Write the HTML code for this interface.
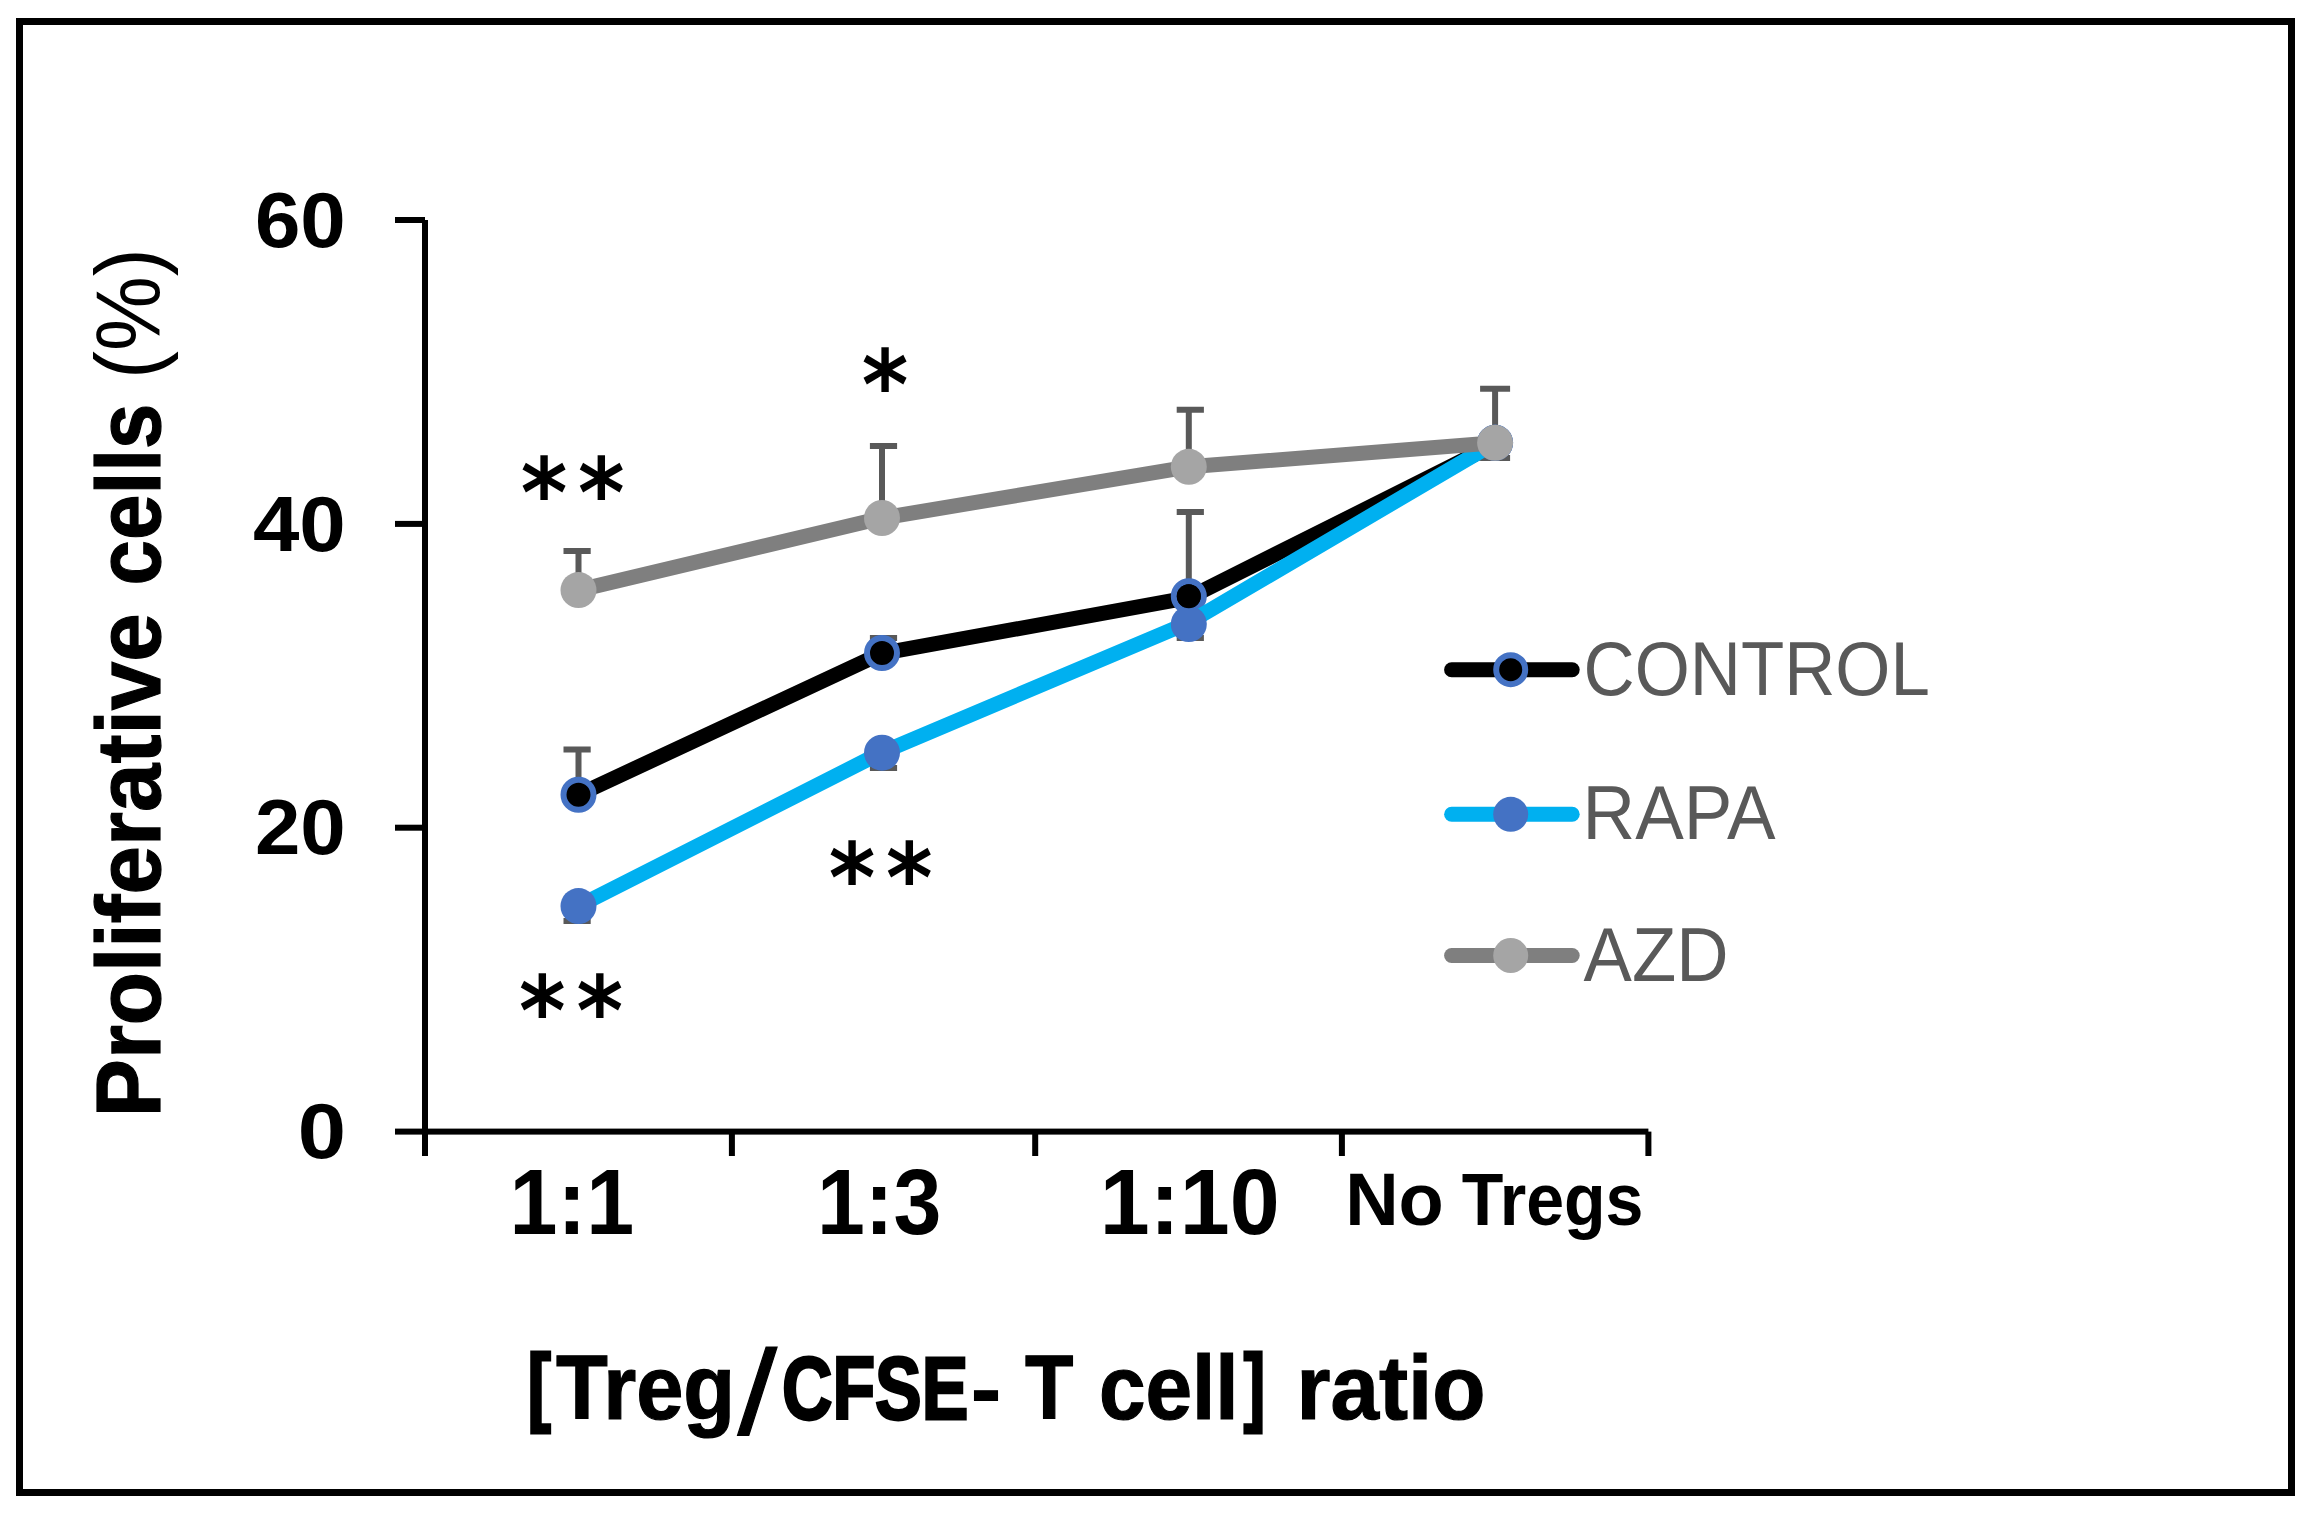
<!DOCTYPE html>
<html lang="en"><head><meta charset="utf-8"><title>Proliferative cells chart</title>
<style>html,body{margin:0;padding:0;background:#fff}body{width:2310px;height:1513px;overflow:hidden}svg{display:block}text{font-family:"Liberation Sans",sans-serif}.b{font-weight:700;fill:#000}.lg{fill:#595959}.r{font-weight:400;fill:#000}.st{font-family:"DejaVu Sans","Liberation Sans",sans-serif;font-weight:700;fill:#000}</style></head><body>
<svg width="2310" height="1513" viewBox="0 0 2310 1513">
<rect x="0" y="0" width="2310" height="1513" fill="#fff"/>
<rect x="19.5" y="21.5" width="2272" height="1471" fill="none" stroke="#000" stroke-width="7"/>
<g fill="#000">
<rect x="422" y="220" width="6" height="936"/>
<rect x="395" y="1128.6" width="1253.4" height="6"/>
<rect x="395" y="824.7" width="30" height="6"/>
<rect x="395" y="520.9" width="30" height="6"/>
<rect x="395" y="217.0" width="30" height="6"/>
<rect x="728.9" y="1131.6" width="6" height="24.4"/>
<rect x="1032.2" y="1131.6" width="6" height="24.4"/>
<rect x="1338.9" y="1131.6" width="6" height="24.4"/>
<rect x="1645.4" y="1131.6" width="6" height="24.4"/>
</g>
<polyline points="578.5,794.7 882.0,653.3 1188.8,597.7 1495.1,444.2" fill="none" stroke="#000" stroke-width="15" stroke-linejoin="round" stroke-linecap="round"/>
<path d="M578.5 794.7V749.6M563.5 749.6H590.7" stroke="#595959" stroke-width="6" fill="none"/>
<path d="M882.0 653.0V638.0M869.9 638.0H897.1" stroke="#595959" stroke-width="6" fill="none"/>
<path d="M1188.8 596.3V512.0M1176.7 512.0H1203.9" stroke="#595959" stroke-width="6" fill="none"/>
<path d="M1495.1 442.8V388.7M1480.1 388.7H1510.1" stroke="#595959" stroke-width="6" fill="none"/>
<circle cx="578.5" cy="794.7" r="15" fill="#000" stroke="#4472C4" stroke-width="6"/>
<circle cx="882.0" cy="653.0" r="15" fill="#000" stroke="#4472C4" stroke-width="6"/>
<circle cx="1188.8" cy="596.3" r="15" fill="#000" stroke="#4472C4" stroke-width="6"/>
<circle cx="1495.1" cy="442.8" r="15" fill="#000" stroke="#4472C4" stroke-width="6"/>
<path d="M578.5 906.1V921.0M563.5 921.0H590.7" stroke="#595959" stroke-width="6" fill="none"/>
<path d="M882.0 752.7V768.0M869.9 768.0H897.1" stroke="#595959" stroke-width="6" fill="none"/>
<path d="M1188.8 624.0V638.0M1176.7 638.0H1203.9" stroke="#595959" stroke-width="6" fill="none"/>
<path d="M1495.1 442.8V458.0M1480.1 458.0H1510.1" stroke="#595959" stroke-width="6" fill="none"/>
<polyline points="578.5,906.1 882.0,752.3 1188.8,622.6 1495.1,442.8" fill="none" stroke="#00B0F0" stroke-width="15" stroke-linejoin="round" stroke-linecap="round"/>
<circle cx="578.5" cy="906.1" r="18" fill="#4472C4"/>
<circle cx="882.0" cy="752.7" r="18" fill="#4472C4"/>
<circle cx="1188.8" cy="624.0" r="18" fill="#4472C4"/>
<circle cx="1495.1" cy="442.8" r="18" fill="#4472C4"/>
<circle cx="1188.8" cy="596.3" r="12" fill="#000"/>
<polyline points="578.5,590.1 882.0,518.0 1188.8,466.8 1495.1,442.8" fill="none" stroke="#7F7F7F" stroke-width="15" stroke-linejoin="round" stroke-linecap="round"/>
<path d="M578.5 590.1V551.0M563.5 551.0H590.7" stroke="#595959" stroke-width="6" fill="none"/>
<path d="M882.0 518.0V446.0M869.9 446.0H897.1" stroke="#595959" stroke-width="6" fill="none"/>
<path d="M1188.8 466.8V409.8M1176.7 409.8H1203.9" stroke="#595959" stroke-width="6" fill="none"/>
<circle cx="578.5" cy="590.1" r="18" fill="#A5A5A5"/>
<circle cx="882.0" cy="518.0" r="18" fill="#A5A5A5"/>
<circle cx="1188.8" cy="466.8" r="18" fill="#A5A5A5"/>
<circle cx="1495.1" cy="442.8" r="18" fill="#A5A5A5"/>
<text class="b" x="254.90" y="246.7" font-size="77.8" textLength="90.88" lengthAdjust="spacingAndGlyphs">60</text>
<text class="b" x="252.93" y="550.6" font-size="77.8" textLength="92.91" lengthAdjust="spacingAndGlyphs">40</text>
<text class="b" x="254.90" y="854.4" font-size="77.8" textLength="90.88" lengthAdjust="spacingAndGlyphs">20</text>
<text class="b" x="297.65" y="1158.3" font-size="77.8" textLength="48.28" lengthAdjust="spacingAndGlyphs">0</text>
<text class="b" x="509.56" y="1234.4" font-size="93" textLength="124.63" lengthAdjust="spacingAndGlyphs">1:1</text>
<text class="b" x="816.97" y="1234.4" font-size="93" textLength="124.45" lengthAdjust="spacingAndGlyphs">1:3</text>
<text class="b" x="1099.87" y="1234.4" font-size="93" textLength="179.83" lengthAdjust="spacingAndGlyphs">1:10</text>
<text class="b" xml:space="preserve"><tspan x="1345.17" y="1225.3" font-size="75" font-weight="700" textLength="98.61" lengthAdjust="spacingAndGlyphs">No</tspan> <tspan x="1461.80" y="1225.3" font-size="75" font-weight="700" textLength="181.66" lengthAdjust="spacingAndGlyphs">Tregs</tspan></text>
<text class="b" xml:space="preserve"><tspan x="527.38" y="1415.2" font-size="87.1" font-weight="700" textLength="23.32" lengthAdjust="spacingAndGlyphs" stroke="#000" stroke-width="3">[</tspan><tspan x="556.06" y="1419.0" font-size="90" font-weight="700" textLength="179.07" lengthAdjust="spacingAndGlyphs" stroke="#000" stroke-width="1.2">Treg</tspan><tspan x="737.50" y="1434.0" font-size="121" font-weight="400" textLength="39.65" lengthAdjust="spacingAndGlyphs" stroke="#000" stroke-width="1">/</tspan><tspan x="781.94" y="1418.5" font-size="89" font-weight="700" textLength="186.40" lengthAdjust="spacingAndGlyphs" stroke="#000" stroke-width="2.8">CFSE</tspan><tspan x="970.34" y="1419.0" font-size="90" font-weight="700" textLength="31.59" lengthAdjust="spacingAndGlyphs">-</tspan> <tspan x="1025.12" y="1419.0" font-size="90" font-weight="700" textLength="48.36" lengthAdjust="spacingAndGlyphs" stroke="#000" stroke-width="1.2">T</tspan> <tspan x="1099.01" y="1419.0" font-size="90" font-weight="700" textLength="139.57" lengthAdjust="spacingAndGlyphs" stroke="#000" stroke-width="1.2">cell</tspan><tspan x="1243.66" y="1415.2" font-size="87.1" font-weight="700" textLength="21.39" lengthAdjust="spacingAndGlyphs" stroke="#000" stroke-width="3">]</tspan> <tspan x="1296.56" y="1419.0" font-size="90" font-weight="700" textLength="188.93" lengthAdjust="spacingAndGlyphs" stroke="#000" stroke-width="1.2">ratio</tspan></text>
<g transform="translate(160 1112) rotate(-90)">
<text class="b" xml:space="preserve"><tspan x="-5.25" y="0.0" font-size="91" font-weight="700" textLength="504.05" lengthAdjust="spacingAndGlyphs" stroke="#000" stroke-width="1.2">Proliferative</tspan> <tspan x="526.61" y="0.0" font-size="91" font-weight="700" textLength="181.74" lengthAdjust="spacingAndGlyphs" stroke="#000" stroke-width="1.2">cells</tspan> <tspan x="732.96" y="-1.5" font-size="90.5" font-weight="400" textLength="130.71" lengthAdjust="spacingAndGlyphs">(%)</tspan></text>
</g>
<line x1="1451.6" y1="669.7" x2="1572.2" y2="669.7" stroke="#000" stroke-width="15" stroke-linecap="round"/>
<circle cx="1510.7" cy="669.7" r="14.5" fill="#000" stroke="#4472C4" stroke-width="6"/>
<text class="lg" x="1583.60" y="695.4" font-size="76" textLength="346.21" lengthAdjust="spacingAndGlyphs">CONTROL</text>
<line x1="1451.6" y1="814.3" x2="1572.2" y2="814.3" stroke="#00B0F0" stroke-width="15" stroke-linecap="round"/>
<circle cx="1510.7" cy="814.3" r="17.5" fill="#4472C4"/>
<text class="lg" x="1582.55" y="839.3" font-size="76" textLength="192.95" lengthAdjust="spacingAndGlyphs">RAPA</text>
<line x1="1451.6" y1="955.5" x2="1572.2" y2="955.5" stroke="#7F7F7F" stroke-width="15" stroke-linecap="round"/>
<circle cx="1510.7" cy="955.5" r="17.5" fill="#A5A5A5"/>
<text class="lg" x="1583.60" y="980.8" font-size="76" textLength="144.85" lengthAdjust="spacingAndGlyphs">AZD</text>
<text class="st" font-size="97" text-anchor="middle"><tspan x="885.1" y="418.8" textLength="46.6" lengthAdjust="spacingAndGlyphs">*</tspan></text>
<text class="st" font-size="97" text-anchor="middle"><tspan x="544.1" y="526.9" textLength="46.6" lengthAdjust="spacingAndGlyphs">*</tspan><tspan x="601.3" y="526.9" textLength="46.6" lengthAdjust="spacingAndGlyphs">*</tspan></text>
<text class="st" font-size="97" text-anchor="middle"><tspan x="852.0" y="912.1" textLength="46.6" lengthAdjust="spacingAndGlyphs">*</tspan><tspan x="909.2" y="912.1" textLength="46.6" lengthAdjust="spacingAndGlyphs">*</tspan></text>
<text class="st" font-size="97" text-anchor="middle"><tspan x="542.4" y="1044.8" textLength="46.6" lengthAdjust="spacingAndGlyphs">*</tspan><tspan x="599.8" y="1044.8" textLength="46.6" lengthAdjust="spacingAndGlyphs">*</tspan></text>
</svg></body></html>
